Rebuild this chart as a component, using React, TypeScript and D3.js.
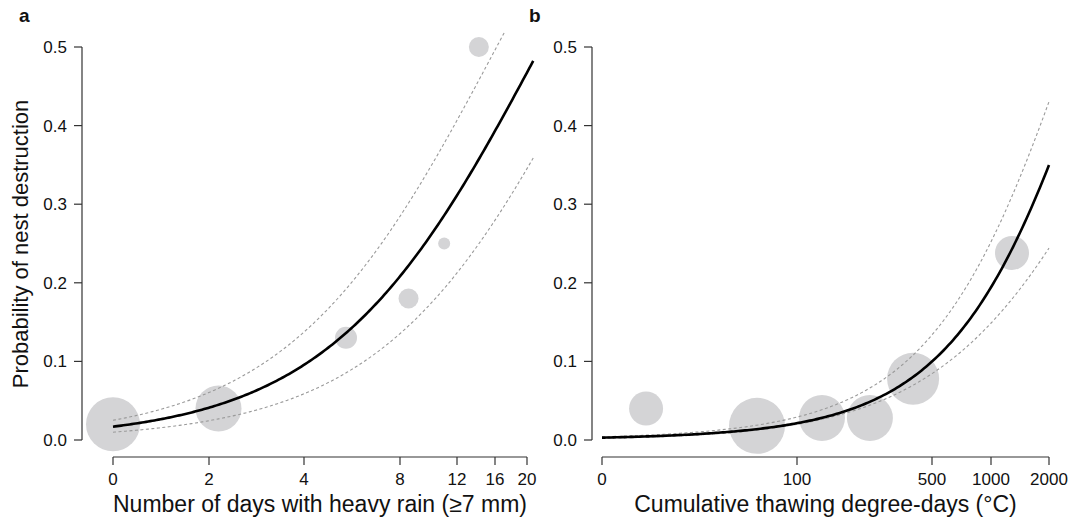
import * as React from "react";
import * as d3 from "d3";

// panel a: heavy rain days
const rainTicks = [0, 2, 4, 8, 12, 16, 20];
const rainX = [0, 2.2, 5.75, 8.6, 11.1, 14.3];
const rainP = [0.02, 0.04, 0.13, 0.18, 0.25, 0.5];
const rainN = [729, 529, 121, 100, 36, 100];
// logit = a + b*u + c*u^2, u = position along axis (0..1)
const rainFit = [-4.06, 3.93, 0];
const rainUpper = [-3.66, 3.95, 0];
const rainLower = [-4.6, 3.96, 0];

// panel b: thawing degree-days
const thawTicks = [0, 100, 500, 1000, 2000];
const thawX = [22.6, 79.5, 174, 316, 444, 1362];
const thawP = [0.04, 0.018, 0.028, 0.028, 0.078, 0.238];
const thawN = [289, 784, 529, 529, 676, 289];
const thawFit = [-5.8, 4.024, 1.156];
const thawUpper = [-5.5, 4.07, 1.15];
const thawLower = [-6.2, 5.45, -0.38];

const yTicks = [0, 0.1, 0.2, 0.3, 0.4, 0.5];
const font = "'Liberation Sans', Arial, sans-serif";

const yScale = d3.scaleLinear().domain([0, 0.5]).range([440, 47]);
const rScale = d3.scaleSqrt().domain([0, 729]).range([0, 27]);

type PanelProps = {
  label: string;
  title: string;
  yAxisX: number;
  xScale: d3.ScaleLinear<number, number>;
  ticks: number[];
  xs: number[];
  ps: number[];
  ns: number[];
  fit: number[];
  upper: number[];
  lower: number[];
  uMax: number;
  id: string;
};

const Panel = (p: PanelProps) => {
  const [r0, r1] = [p.xScale(p.ticks[0]), p.xScale(p.ticks[p.ticks.length - 1])];
  const curve = (coef: number[]) => {
    const us = d3.range(0, p.uMax + 0.0001, 0.005);
    const pts = us.map((u) => {
      const l = coef[0] + coef[1] * u + coef[2] * u * u;
      return [r0 + u * (r1 - r0), yScale(1 / (1 + Math.exp(-l)))] as [number, number];
    });
    return d3.line()(pts) || "";
  };
  const axisY = 457;
  return (
    <g fontFamily={font} fill="#111">
      <defs>
        <clipPath id={p.id}>
          <rect x={r0 - 40} y={32} width={r1 - r0 + 60} height={440} />
        </clipPath>
      </defs>
      <text x={p.yAxisX - 63} y={22} fontSize={19} fontWeight="bold">{p.label}</text>
      {p.xs.map((x, i) => (
        <circle key={i} cx={p.xScale(x)} cy={yScale(p.ps[i])} r={rScale(p.ns[i])} fill="#d4d4d6" />
      ))}
      <g clipPath={`url(#${p.id})`} fill="none">
        <path d={curve(p.upper)} stroke="#9a9a9a" strokeWidth={1.1} strokeDasharray="3,2.5" />
        <path d={curve(p.lower)} stroke="#9a9a9a" strokeWidth={1.1} strokeDasharray="3,2.5" />
        <path d={curve(p.fit)} stroke="#000" strokeWidth={2.6} />
      </g>
      {/* y axis */}
      <line x1={p.yAxisX} x2={p.yAxisX} y1={yScale(0)} y2={yScale(0.5)} stroke="#333" strokeWidth={1.2} />
      {yTicks.map((t) => (
        <g key={t}>
          <line x1={p.yAxisX - 8} x2={p.yAxisX} y1={yScale(t)} y2={yScale(t)} stroke="#333" strokeWidth={1.2} />
          <text x={p.yAxisX - 15} y={yScale(t)} dy="0.35em" textAnchor="end" fontSize={17}>{t.toFixed(1)}</text>
        </g>
      ))}
      {/* x axis */}
      <line x1={r0} x2={r1} y1={axisY} y2={axisY} stroke="#333" strokeWidth={1.2} />
      {p.ticks.map((t) => (
        <g key={t}>
          <line x1={p.xScale(t)} x2={p.xScale(t)} y1={axisY} y2={axisY + 8} stroke="#333" strokeWidth={1.2} />
          <text x={p.xScale(t)} y={axisY + 28} textAnchor="middle" fontSize={17}>{t}</text>
        </g>
      ))}
      <text x={(r0 + r1) / 2} y={axisY + 55} textAnchor="middle" fontSize={23}>{p.title}</text>
    </g>
  );
};

export default function App() {
  const xRain = d3.scaleLinear().domain(rainTicks).range([113, 209, 304, 400, 457, 495, 527]);
  const xThaw = d3.scaleLinear().domain(thawTicks).range([602, 797, 932, 991, 1049]);
  return (
    <svg width={1070} height={525} style={{ position: "absolute", left: 0, top: 0, background: "#fff" }}>
      <text transform="translate(28,244) rotate(-90)" textAnchor="middle" fontSize={22} fontFamily={font} fill="#111">
        Probability of nest destruction
      </text>
      <Panel label="a" title="Number of days with heavy rain (≥7 mm)" yAxisX={82} xScale={xRain} ticks={rainTicks}
        xs={rainX} ps={rainP} ns={rainN} fit={rainFit} upper={rainUpper} lower={rainLower} uMax={1.015} id="ca" />
      <Panel label="b" title="Cumulative thawing degree-days (°C)" yAxisX={592} xScale={xThaw} ticks={thawTicks}
        xs={thawX} ps={thawP} ns={thawN} fit={thawFit} upper={thawUpper} lower={thawLower} uMax={1} id="cb" />
    </svg>
  );
}
